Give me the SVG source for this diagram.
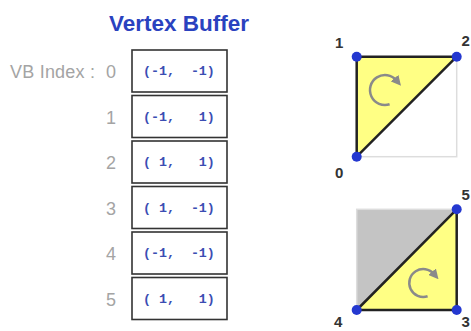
<svg xmlns="http://www.w3.org/2000/svg" width="471" height="331" viewBox="0 0 471 331">
<style>
.title{font-family:"Liberation Sans",Arial,sans-serif;font-weight:bold;font-size:22.5px;fill:#2a42bf}
.lbl{font-family:"Liberation Sans",Arial,sans-serif;font-size:18px;fill:#a4a4a4}
.box{fill:#fff;stroke:#333;stroke-width:1.6}
.val{font-family:"Liberation Mono","Courier New",monospace;font-weight:bold;font-size:13.3px;fill:#3b4db3;white-space:pre}
.vl{font-family:"Liberation Sans",Arial,sans-serif;font-weight:bold;font-size:15px;fill:#333}
.tri{fill:#ffff84;stroke:#222;stroke-width:2.5;stroke-linejoin:round}
.dot{fill:#2438d0}
.rot{fill:none;stroke:#8a8a8a;stroke-width:2.5}
</style>
<defs>
<marker id="ah" markerUnits="userSpaceOnUse" markerWidth="10" markerHeight="10" refX="3" refY="5" orient="auto">
<path d="M0,0 L10,5 L0,10 z" fill="#8a8a8a"/>
</marker>
</defs>
<text class="title" x="179" y="31" text-anchor="middle">Vertex Buffer</text>
<text class="lbl" x="10" y="78" textLength="85">VB Index :</text>
<g id="row0"><text class="lbl" x="111" y="78" text-anchor="middle">0</text><rect class="box" x="132" y="50" width="95" height="42"/><text class="val" x="143" y="75" xml:space="preserve">(-1,  -1)</text></g>
<g id="row1"><text class="lbl" x="111" y="124" text-anchor="middle">1</text><rect class="box" x="132" y="95.5" width="95" height="42"/><text class="val" x="143" y="121" xml:space="preserve">(-1,   1)</text></g>
<g id="row2"><text class="lbl" x="111" y="169" text-anchor="middle">2</text><rect class="box" x="132" y="141" width="95" height="42"/><text class="val" x="143" y="166" xml:space="preserve">( 1,   1)</text></g>
<g id="row3"><text class="lbl" x="111" y="215" text-anchor="middle">3</text><rect class="box" x="132" y="186.5" width="95" height="42"/><text class="val" x="143" y="212" xml:space="preserve">( 1,  -1)</text></g>
<g id="row4"><text class="lbl" x="111" y="260" text-anchor="middle">4</text><rect class="box" x="132" y="232" width="95" height="42"/><text class="val" x="143" y="257" xml:space="preserve">(-1,  -1)</text></g>
<g id="row5"><text class="lbl" x="111" y="306" text-anchor="middle">5</text><rect class="box" x="132" y="277.5" width="95" height="42"/><text class="val" x="143" y="303" xml:space="preserve">( 1,   1)</text></g>

<g id="tri-top">
<rect x="356.7" y="56.7" width="100" height="100" fill="none" stroke="#ddd" stroke-width="1.5"/>
<polygon class="tri" points="356.7,156.7 356.7,56.7 456.7,56.7"/>
<path class="rot" d="M389.6,104.3 A15,15 0 1 1 396.5,80.4" marker-end="url(#ah)"/>
<circle class="dot" cx="356.7" cy="56.7" r="5"/>
<circle class="dot" cx="456.7" cy="56.7" r="5"/>
<circle class="dot" cx="356.7" cy="156.7" r="5"/>
<text class="vl" x="335" y="48">1</text>
<text class="vl" x="461.5" y="46">2</text>
<text class="vl" x="335" y="178">0</text>
</g>
<g id="tri-bottom">
<rect x="356.7" y="209.3" width="100" height="100.7" fill="#c4c4c4" stroke="#ddd" stroke-width="1.5"/>
<polygon class="tri" points="356.7,310 456.7,209.3 456.7,310"/>
<path class="rot" d="M427.6,296.3 A14,14 0 1 1 434,274" marker-end="url(#ah)"/>
<circle class="dot" cx="456.7" cy="209.3" r="5"/>
<circle class="dot" cx="356.7" cy="310" r="5"/>
<circle class="dot" cx="456.7" cy="310" r="5"/>
<text class="vl" x="461.5" y="200">5</text>
<text class="vl" x="334" y="327">4</text>
<text class="vl" x="461.5" y="327">3</text>
</g>
</svg>
